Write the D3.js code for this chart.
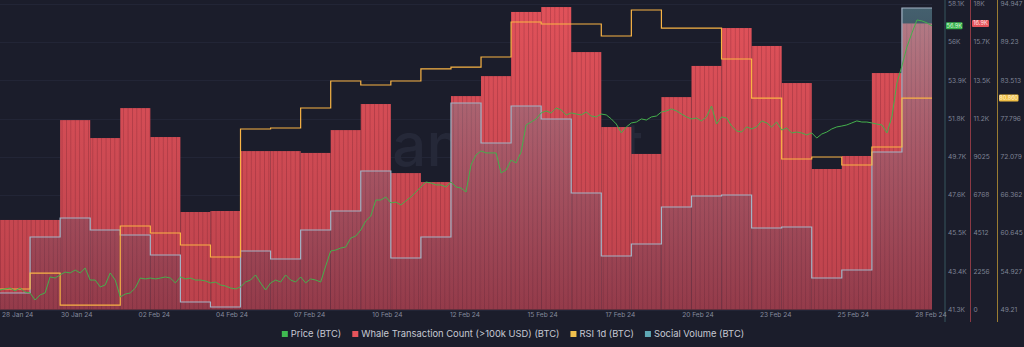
<!DOCTYPE html>
<html>
<head>
<meta charset="utf-8">
<script src="https://cdn.jsdelivr.net/npm/d3@7"></script>
<style>
  html, body { margin: 0; padding: 0; background: #1b1d2b; }
  svg { display: block; font-family: Inter, "Noto Sans", sans-serif; }
</style>
</head>
<body>
<svg id="chart" width="1024" height="347"></svg>
<script>
// ---- data -------------------------------------------------------------
const days = [
  "2024-01-28","2024-01-29","2024-01-30","2024-01-31","2024-02-01","2024-02-02",
  "2024-02-03","2024-02-04","2024-02-05","2024-02-06","2024-02-07","2024-02-08",
  "2024-02-09","2024-02-10","2024-02-11","2024-02-12","2024-02-13","2024-02-14",
  "2024-02-15","2024-02-16","2024-02-17","2024-02-18","2024-02-19","2024-02-20",
  "2024-02-21","2024-02-22","2024-02-23","2024-02-24","2024-02-25","2024-02-26",
  "2024-02-27"
];
// Whale transactions above 100k USD, per day
const whaleTx = [
  5290, 5290, 11190, 10130, 11900, 10190, 5760, 5820, 9360, 9360, 9250,
  10600, 12140, 8060, 7530, 12610, 13790, 17580, 17870, 15210, 10780,
  9190, 12550, 14390, 16630, 15570, 13380, 8300, 9070, 13970, 16900
];
// Social volume, per day
const socialVolume = [
  497, 2183, 2755, 2394, 2244, 1641, 226, 75, 1762, 1521, 2394,
  2966, 4171, 1551, 2183, 6219, 5014, 6128, 5737, 3508, 1611,
  1972, 3087, 3418, 3448, 2454, 2484, 949, 1190, 4743, 9080
];
// Daily RSI
const rsi1d = [
  52.28, 54.67, 49.88, 49.88, 61.71, 60.66, 58.87, 57.07, 76.23, 76.38, 79.38,
  83.42, 82.82, 83.42, 85.22, 85.51, 87.01, 92.25, 91.95, 91.95, 90.16,
  94.05, 91.35, 91.35, 86.71, 80.87, 71.74, 72.04, 70.84, 73.54, 80.86
];
// BTC price, one value every 4 hours from the first session open
const priceStepHours = 4;
const price = [
  42370, 42430, 42480, 42320, 42480, 42260, 42210, 41820, 42100, 42210,
  43090, 43030, 43200, 43360, 43310, 43470, 43310, 43580, 42920, 42920,
  42540, 42650, 43310, 42920, 41990, 42150, 42210, 42480, 43030, 42980,
  43030, 42980, 43030, 43090, 43030, 42760, 43090, 42980, 43030, 42920,
  42920, 42870, 42760, 42810, 42650, 42590, 42480, 42430, 42540, 42810,
  42920, 43200, 42760, 42370, 42760, 42920, 42810, 43200, 42920, 42810,
  43090, 42760, 42980, 42920, 42810, 43690, 44520, 44570, 44680, 44740,
  45230, 45340, 45670, 46170, 46440, 47320, 47320, 47490, 47160, 47210,
  47050, 47270, 47490, 47760, 48040, 48310, 48260, 48150, 48150, 48040,
  48310, 48040, 47980, 47760, 49250, 49800, 50020, 49910, 49910, 49910,
  48810, 48970, 49520, 49360, 49960, 51450, 51610, 51780, 52110, 52220,
  52110, 52380, 52270, 52000, 52110, 52050, 52000, 52160, 51940, 51890,
  52050, 52000, 51780, 51500, 51010, 51340, 51560, 51610, 51780, 51720,
  51890, 51940, 52160, 52220, 52330, 52220, 52050, 51890, 51780, 51830,
  51670, 51890, 52490, 51500, 51890, 51830, 51390, 51120, 51060, 51340,
  51230, 51340, 51670, 51560, 51340, 51610, 51170, 51280, 51010, 51060,
  51010, 50900, 51010, 50730, 50950, 51060, 51230, 51340, 51390, 51450,
  51560, 51670, 51610, 51610, 51560, 51500, 51450, 51010, 51890, 53760,
  54690, 55740, 56510, 57220, 57170, 57060, 56900
];
// Axis ticks
const priceTicks  = [41300, 43400, 45500, 47600, 49700, 51800, 53900, 56000, 58100];
const whaleTicks  = [0, 2256.25, 4512.5, 6768.75, 9025, 11281.25, 13537.5, 15793.75, 18050];
const rsiTicks    = [49.21, 54.927, 60.645, 66.362, 72.079, 77.796, 83.513, 89.23, 94.947];
const xTickCount  = 13;
const legendItems = [
  { name: "Price (BTC)", color: "#3fb950" },
  { name: "Whale Transaction Count (>100k USD) (BTC)", color: "#e5545b" },
  { name: "RSI 1d (BTC)", color: "#f2c14e" },
  { name: "Social Volume (BTC)", color: "#5fa8b5" }
];

// ---- layout ------------------------------------------------------------
const svg = d3.select("#chart");
const plotRight = 932, plotTop = 4, plotBottom = 309.5;

const sessionOpen = d => new Date(d + "T05:00:00Z");
const t0 = sessionOpen(days[0]);
const t1 = d3.utcDay.offset(sessionOpen(days[days.length - 1]), 1);

const x = d3.scaleTime().domain([t0, t1]).range([0, plotRight]);
const yPrice  = d3.scaleLinear().domain([41300, 58100]).range([plotBottom, plotTop]);
const yWhale  = d3.scaleLinear().domain([0, 18050]).range([plotBottom, plotTop]);
const yRsi    = d3.scaleLinear().domain([49.21, 94.947]).range([plotBottom, plotTop]);
const ySocial = d3.scaleLinear().domain([0, 9200]).range([plotBottom, plotTop]);

// ---- defs ----------------------------------------------------------------
const defs = svg.append("defs");
const redGrad = defs.append("linearGradient").attr("id", "redGrad")
  .attr("gradientUnits", "userSpaceOnUse").attr("x1", 0).attr("x2", 0)
  .attr("y1", plotTop).attr("y2", plotBottom);
redGrad.append("stop").attr("offset", 0).attr("stop-color", "#e1525a");
redGrad.append("stop").attr("offset", 1).attr("stop-color", "#bb424c");

const socGrad = defs.append("linearGradient").attr("id", "socGrad")
  .attr("gradientUnits", "userSpaceOnUse").attr("x1", 0).attr("x2", 0)
  .attr("y1", plotTop).attr("y2", plotBottom);
socGrad.append("stop").attr("offset", 0).attr("stop-color", "#7ab8c6").attr("stop-opacity", 0.44);
socGrad.append("stop").attr("offset", 0.5).attr("stop-color", "#5c6f88").attr("stop-opacity", 0.34);
socGrad.append("stop").attr("offset", 1).attr("stop-color", "#3a2a45").attr("stop-opacity", 0.3);

const stripe = defs.append("pattern").attr("id", "stripes")
  .attr("patternUnits", "userSpaceOnUse").attr("width", 4.4).attr("height", 10);
stripe.append("rect").attr("x", 0).attr("y", 0).attr("width", 0.9).attr("height", 10)
  .attr("fill", "rgba(90,20,35,0.26)");

const clip = defs.append("clipPath").attr("id", "barClip");

// ---- background grid + watermark ----------------------------------------
svg.append("g").selectAll("line").data(whaleTicks).join("line")
  .attr("x1", 0).attr("x2", plotRight)
  .attr("y1", d => Math.round(yWhale(d)) + 0.5).attr("y2", d => Math.round(yWhale(d)) + 0.5)
  .attr("stroke", "#222536").attr("stroke-width", 1);

svg.append("text").attr("x", 360).attr("y", 166)
  .attr("font-size", 60).attr("font-weight", 500).attr("fill", "#252838")
  .text("santiment");

// ---- whale bars ------------------------------------------------------------
const bars = days.map((d, i) => ({
  x0: x(sessionOpen(d)),
  x1: x(d3.utcDay.offset(sessionOpen(d), 1)),
  v: whaleTx[i]
}));
svg.append("g").selectAll("rect").data(bars).join("rect")
  .attr("x", d => d.x0).attr("width", d => d.x1 - d.x0)
  .attr("y", d => yWhale(d.v)).attr("height", d => plotBottom - yWhale(d.v))
  .attr("fill", "url(#redGrad)");
clip.selectAll("rect").data(bars).join("rect")
  .attr("x", d => d.x0).attr("width", d => d.x1 - d.x0)
  .attr("y", d => yWhale(d.v)).attr("height", d => plotBottom - yWhale(d.v));
svg.append("rect").attr("x", 0).attr("y", 0).attr("width", plotRight).attr("height", plotBottom)
  .attr("fill", "url(#stripes)").attr("clip-path", "url(#barClip)");

// ---- social volume area + line ------------------------------------------
const socialPts = days.map((d, i) => [sessionOpen(d), socialVolume[i]]);
socialPts.push([t1, socialVolume[socialVolume.length - 1]]);
svg.append("path").datum(socialPts)
  .attr("d", d3.area().curve(d3.curveStepAfter)
    .x(p => x(p[0])).y0(plotBottom).y1(p => ySocial(p[1])))
  .attr("fill", "url(#socGrad)");
svg.append("path").datum(socialPts)
  .attr("d", d3.line().curve(d3.curveStepAfter).x(p => x(p[0])).y(p => ySocial(p[1])))
  .attr("fill", "none").attr("stroke", "#a3b4c6").attr("stroke-width", 1.2);

// ---- RSI ------------------------------------------------------------------
const rsiPts = days.map((d, i) => [sessionOpen(d), rsi1d[i]]);
rsiPts.push([t1, rsi1d[rsi1d.length - 1]]);
svg.append("path").datum(rsiPts)
  .attr("d", d3.line().curve(d3.curveStepAfter).x(p => x(p[0])).y(p => yRsi(p[1])))
  .attr("fill", "none").attr("stroke", "#f9b445").attr("stroke-width", 1.2);

// ---- price ------------------------------------------------------------------
const pricePts = price.map((v, i) => [d3.utcHour.offset(t0, i * priceStepHours), v]);
svg.append("path").datum(pricePts)
  .attr("d", d3.line().x(p => x(p[0])).y(p => yPrice(p[1])))
  .attr("fill", "none").attr("stroke", "#44b04c").attr("stroke-width", 1)
  .attr("stroke-linejoin", "round");

// ---- right axes -------------------------------------------------------------
const axisDefs = [
  { x: 945, color: "#36575f", scale: yPrice, ticks: priceTicks,
    fmt: v => +(v / 1000).toFixed(1) + "K" },
  { x: 970.5, color: "#8c3944", scale: yWhale, ticks: whaleTicks,
    fmt: v => v < 10000 ? String(Math.floor(v)) : (Math.floor(v / 100) / 10) + "K" },
  { x: 997.5, color: "#9a7c32", scale: yRsi, ticks: rsiTicks,
    fmt: d3.format(".3~f") }
];
axisDefs.forEach(a => {
  svg.append("line").attr("x1", a.x).attr("x2", a.x).attr("y1", 0).attr("y2", 322)
    .attr("stroke", a.color).attr("stroke-width", 1);
  svg.append("g").selectAll("text").data(a.ticks).join("text")
    .attr("x", a.x + 3).attr("y", d => a.scale(d))
    .attr("dy", "0.35em").attr("font-size", 6.6).attr("fill", "#7f8496")
    .text(a.fmt);
});

// last-value badges
const badges = [
  { x: 946, w: 16.5, y: yPrice(price[price.length - 1]), fill: "#37b24d",
    text: (price[price.length - 1] / 1000).toFixed(1) + "K", tc: "#d8f5da" },
  { x: 972, w: 17, y: yWhale(whaleTx[whaleTx.length - 1]), fill: "#e5545b",
    text: (whaleTx[whaleTx.length - 1] / 1000).toFixed(1) + "K", tc: "#ffe4e4" },
  { x: 999, w: 19.5, y: yRsi(rsi1d[rsi1d.length - 1]), fill: "#efbe45",
    text: rsi1d[rsi1d.length - 1].toFixed(3), tc: "#fff6dc" }
];
badges.forEach(b => {
  svg.append("rect").attr("x", b.x).attr("y", b.y - 3.5).attr("width", b.w).attr("height", 7)
    .attr("rx", 1).attr("fill", b.fill);
  svg.append("text").attr("x", b.x + b.w / 2).attr("y", b.y).attr("dy", "0.35em")
    .attr("text-anchor", "middle").attr("font-size", 5.6).attr("fill", b.tc).text(b.text);
});

// ---- x axis labels ------------------------------------------------------------
const fmtDate = d3.utcFormat("%d %b %y");
const xTicks = d3.range(xTickCount).map(k =>
  new Date(+t0 + (t1 - t0) * k / (xTickCount - 1)));
svg.append("g").selectAll("text").data(xTicks).join("text")
  .attr("x", (d, i) => i === 0 ? 2 : x(d) - 1)
  .attr("y", 315).attr("dy", "0.35em")
  .attr("text-anchor", (d, i) => i === 0 ? "start" : "middle")
  .attr("font-size", 6.6).attr("fill", "#858a9c")
  .text(fmtDate);

// ---- legend -----------------------------------------------------------------
const legend = svg.append("g");
let cursor = 0;
legendItems.forEach(it => {
  const g = legend.append("g");
  g.append("rect").attr("width", 6).attr("height", 6).attr("y", -3).attr("fill", it.color);
  const t = g.append("text").attr("x", 9).attr("dy", "0.35em")
    .attr("font-size", 9.4).attr("fill", "#c6c9d3").text(it.name);
  const w = 9 + t.node().getComputedTextLength();
  g.attr("transform", `translate(${cursor},0)`);
  cursor += w + 11;
});
const legendWidth = cursor - 11;
legend.attr("transform", `translate(${512 - legendWidth / 2 + 1},334)`);
</script>
</body>
</html>
